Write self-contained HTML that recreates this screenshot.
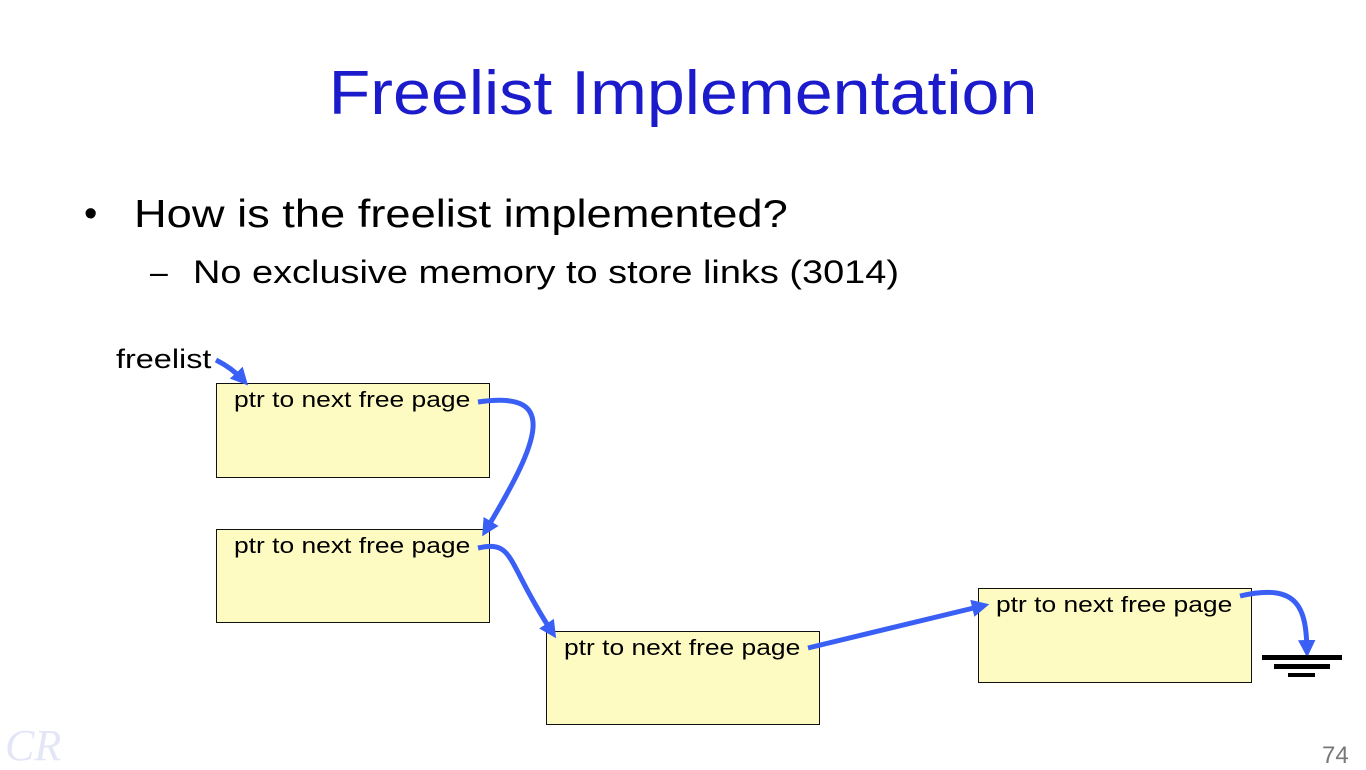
<!DOCTYPE html>
<html><head><style>
body{margin:0;width:1366px;height:768px;background:#fff;position:relative;overflow:hidden;font-family:"Liberation Sans",sans-serif}
.t{position:absolute;white-space:nowrap;transform-origin:0 0}
.box{position:absolute;background:#fdfbc2;border:1.5px solid #111;box-sizing:border-box}
.box span{position:absolute;left:17px;top:3px;font-size:22px;color:#000;white-space:nowrap;transform:scaleX(1.2);transform-origin:0 0}
</style></head><body>
<div class="t" style="left:0;width:1366px;text-align:center;top:58px;font-size:62px;color:#1b1bcc;transform:scaleX(1.1);transform-origin:683px 0">Freelist Implementation</div>
<div class="t" style="left:84px;top:193px;font-size:38px">•</div>
<div class="t" style="left:134px;top:193px;font-size:39px;transform:scaleX(1.16)">How is the freelist implemented?</div>
<div class="t" style="left:150px;top:254px;font-size:32px">–</div>
<div class="t" style="left:193px;top:254px;font-size:32px;transform:scaleX(1.185)">No exclusive memory to store links (3014)</div>
<div class="t" style="left:116px;top:344px;font-size:27px;transform:scaleX(1.2)">freelist</div>
<div class="box" style="left:216px;top:383px;width:274px;height:95px"><span>ptr to next free page</span></div>
<div class="box" style="left:216px;top:529px;width:274px;height:94px"><span>ptr to next free page</span></div>
<div class="box" style="left:546px;top:631px;width:274px;height:94px"><span>ptr to next free page</span></div>
<div class="box" style="left:978px;top:588px;width:274px;height:95px"><span>ptr to next free page</span></div>
<svg width="1366" height="768" style="position:absolute;left:0;top:0">
<defs><marker id="a" markerWidth="3.5" markerHeight="3.5" refX="2" refY="1.75" orient="auto"><path d="M0,0 L3.5,1.75 L0,3.5 z" fill="#3a5ff5"/></marker></defs>
<g fill="none" stroke="#3a5ff5" stroke-width="5">
<path d="M216,360 Q232,368 243,380" marker-end="url(#a)"/>
<path d="M478,402 C560,390 540,440 486,530" marker-end="url(#a)"/>
<path d="M478,548 C515,540 505,560 552,632" marker-end="url(#a)"/>
<path d="M808,648 L982,606" marker-end="url(#a)"/>
<path d="M1240,596 C1300,582 1306,610 1307,650" marker-end="url(#a)"/>
</g>
<rect x="1262" y="655" width="80" height="5" fill="#000"/>
<rect x="1274" y="664" width="56" height="5" fill="#000"/>
<rect x="1288" y="673" width="27" height="4" fill="#000"/>
<text x="5" y="760" font-family="Liberation Serif,serif" font-style="italic" font-size="44" fill="#e4e6f6">CR</text>
</svg>
<div class="t" style="left:1322px;top:742px;font-size:24px;color:#777">74</div>
</body></html>
